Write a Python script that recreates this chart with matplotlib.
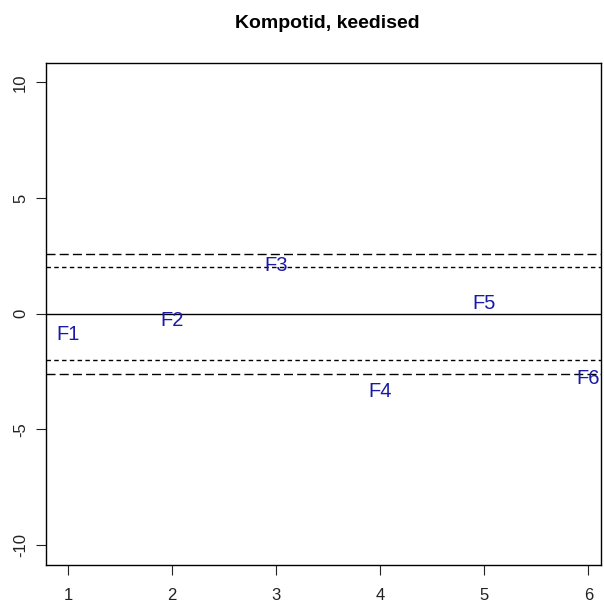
import matplotlib
matplotlib.use("Agg")
import matplotlib.pyplot as plt

# Standardised residuals per group
labels = ["F1", "F2", "F3", "F4", "F5", "F6"]
x_pos = [1, 2, 3, 4, 5, 6]
values = [-0.9, -0.3, 2.1, -3.35, 0.45, -2.8]

x_ticks = [1, 2, 3, 4, 5, 6]
y_ticks = [-10, -5, 0, 5, 10]
inner_limit = 2.0
outer_limit = 2.6
title = "Kompotid, keedised"

plt.rcParams["font.family"] = ["Liberation Sans", "DejaVu Sans"]

W, H = 604, 603
fig = plt.figure(figsize=(W / 100, H / 100), dpi=100)
left, right, top, bottom = 46, 601, 62.7, 565.3
ax = fig.add_axes([left / W, 1 - bottom / H, (right - left) / W, (bottom - top) / H])

ax.set_xlim(0.786, 6.122)
ax.set_ylim(-10.87, 10.85)

ax.axhline(0, color="black", lw=1.0)
for s in (1, -1):
    ax.axhline(s * outer_limit, color="black", lw=1.0, dashes=(6.5, 3.0))
    ax.axhline(s * inner_limit, color="black", lw=1.0, dashes=(3.2, 2.4))

for lab, xv, yv in zip(labels, x_pos, values):
    ax.text(xv, yv, lab, color="#1a1aa6", fontsize=14.5,
            ha="center", va="center")

ax.set_xticks(x_ticks)
ax.set_yticks(y_ticks)
ax.set_xticklabels([str(t) for t in x_ticks])
ax.set_yticklabels([str(t) for t in y_ticks], rotation=90, va="center")
ax.tick_params(axis="x", length=7, width=0.8, pad=9, labelsize=12, colors="#222222")
ax.tick_params(axis="y", length=7, width=0.8, pad=6, labelsize=12, colors="#222222")
for sp in ax.spines.values():
    sp.set_linewidth(1.0)

fig.text(327 / W, 1 - 24 / H, title, ha="center", va="center",
         fontsize=14, fontweight="bold")

fig.savefig("out.png", dpi=100)
